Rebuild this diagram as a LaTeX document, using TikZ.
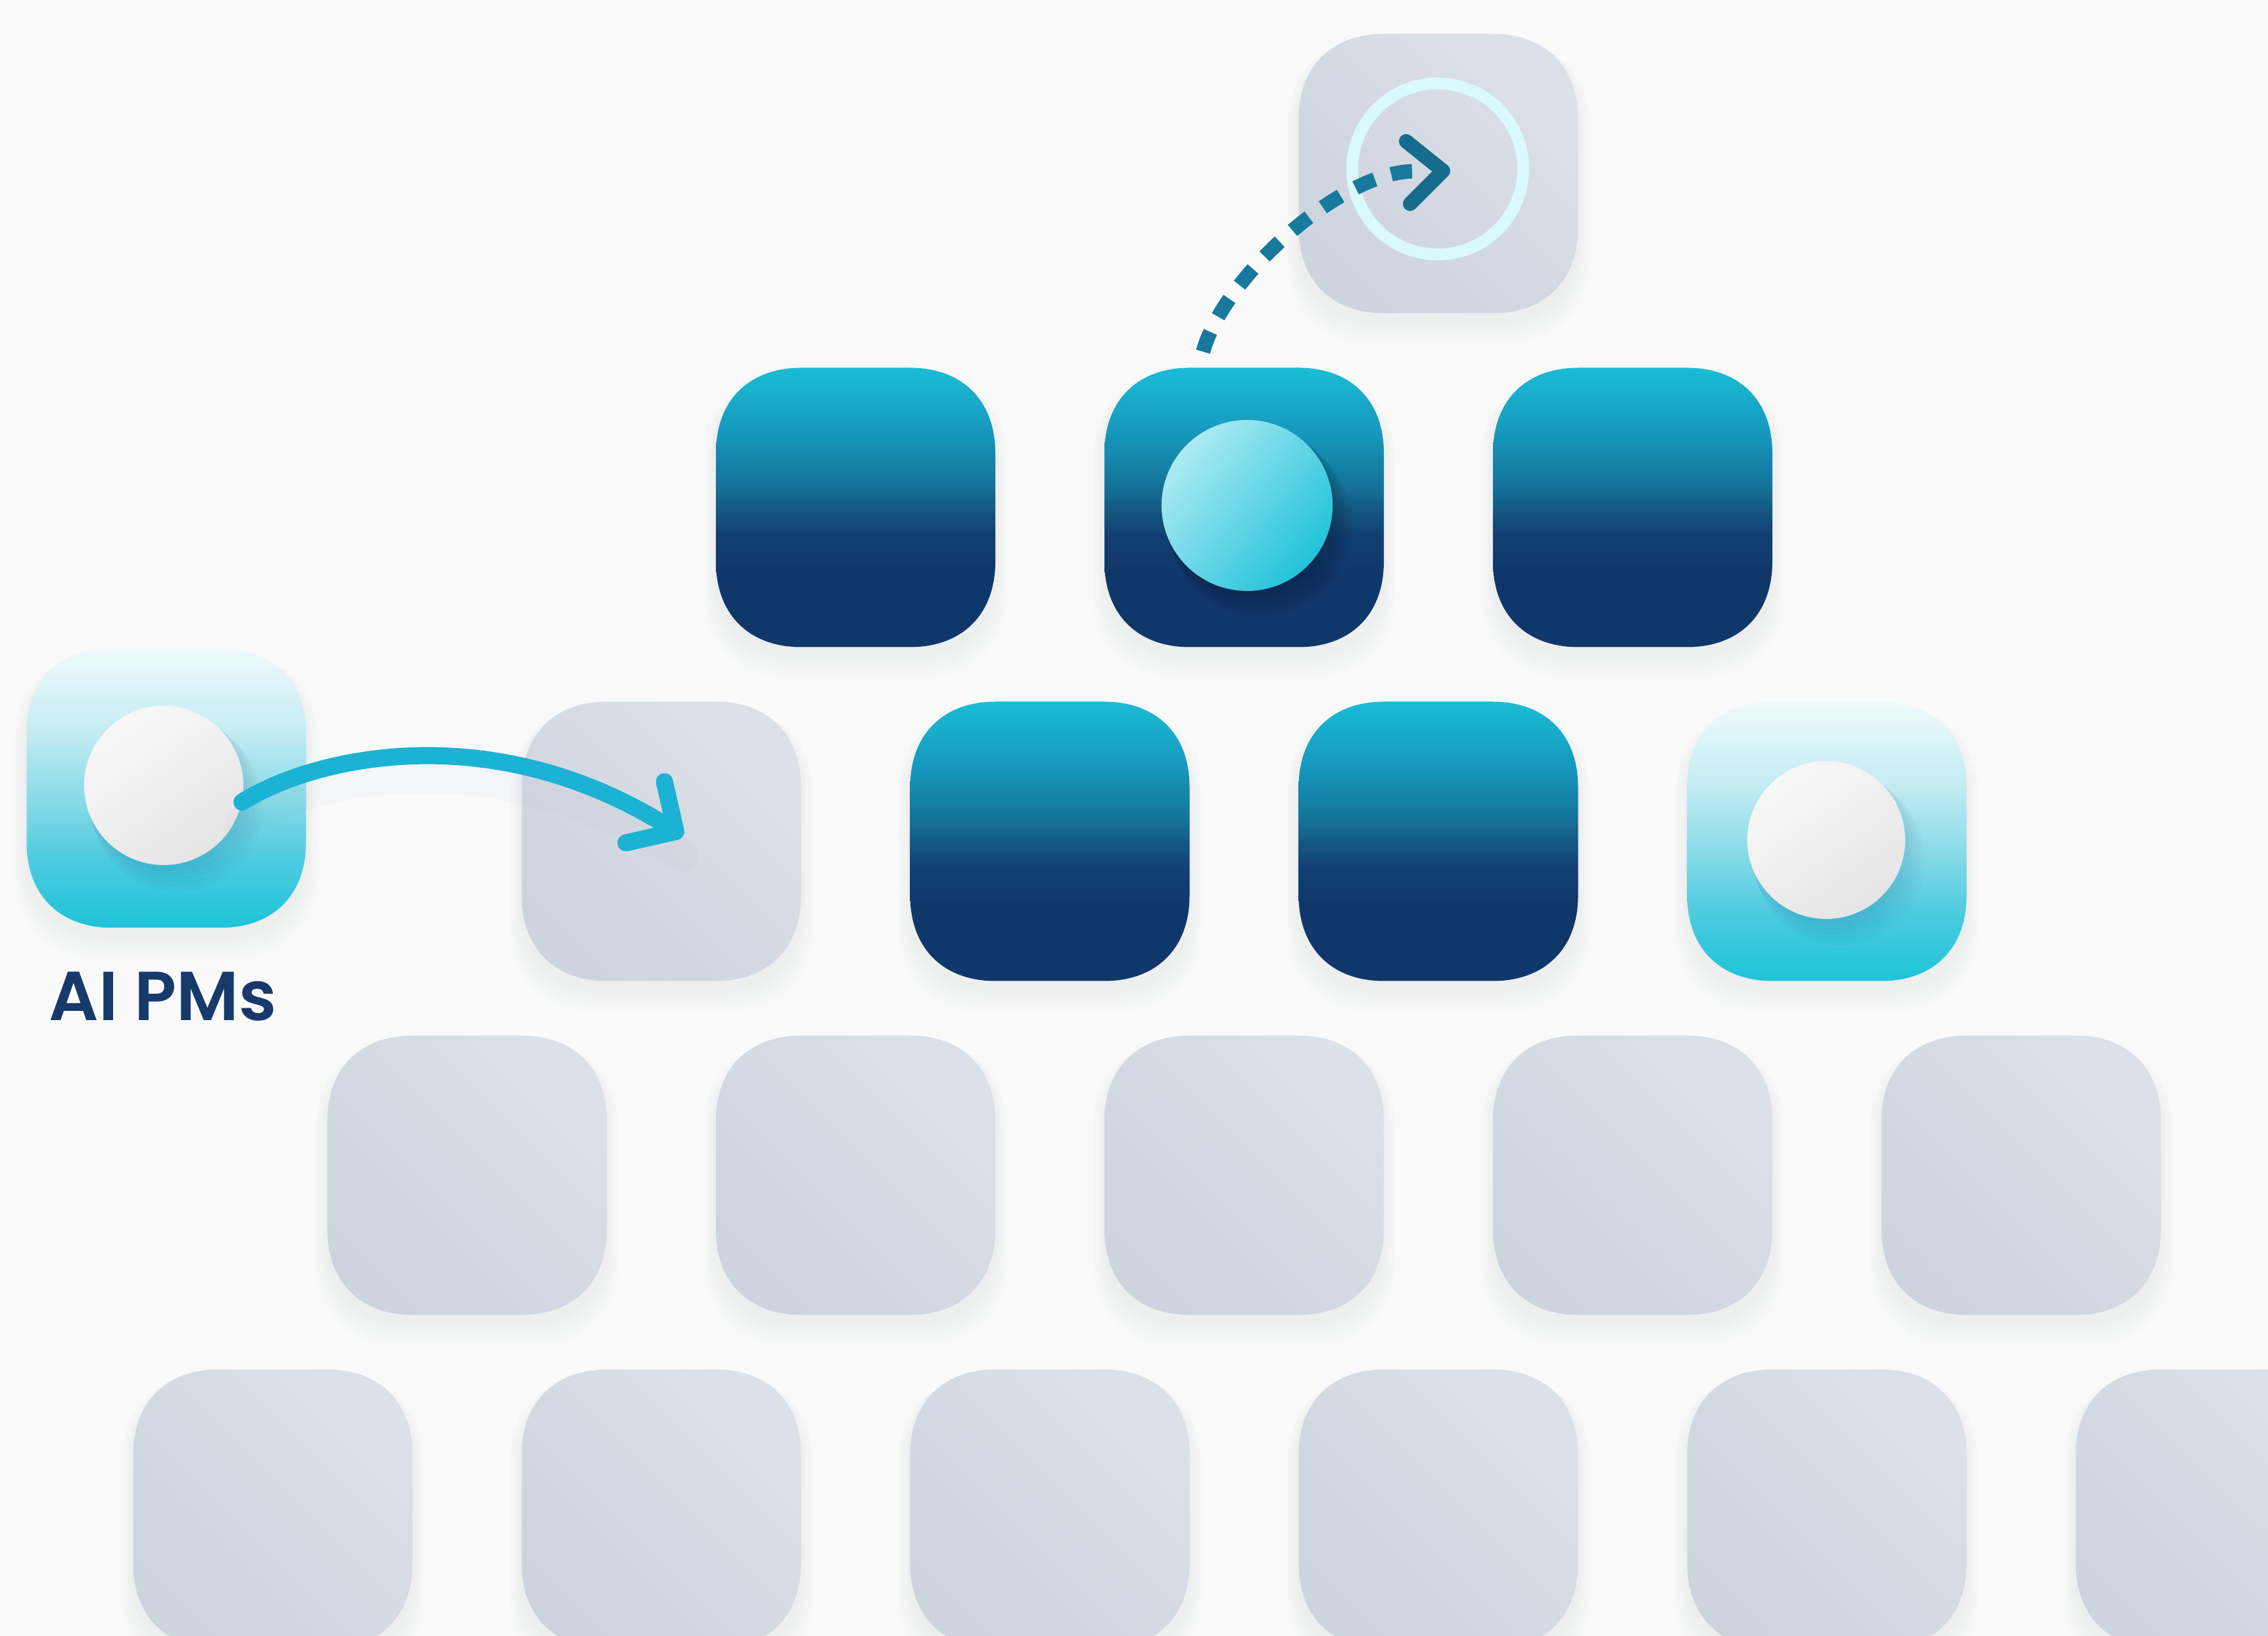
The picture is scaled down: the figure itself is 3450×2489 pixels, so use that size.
\documentclass[tikz,border=0pt]{standalone}
\usepackage{fontspec}
\IfFontExistsTF{Poppins SemiBold}{\newfontfamily\lblfont{Poppins SemiBold}}{\newfontfamily\lblfont{Poppins}}
\usetikzlibrary{arrows.meta}
\definecolor{bg}{HTML}{FAFAFA}
\definecolor{navy}{HTML}{10376A}
\definecolor{navyb}{HTML}{123F73}
\definecolor{navyc}{HTML}{14557F}
\definecolor{midb}{HTML}{157399}
\definecolor{midc}{HTML}{1697BC}
\definecolor{cyantop}{HTML}{1BBCD6}
\definecolor{lbA}{HTML}{1EC3DA}
\definecolor{lbB}{HTML}{4ECCDF}
\definecolor{lbC}{HTML}{86DAE7}
\definecolor{lbD}{HTML}{C3ECF2}
\definecolor{lbE}{HTML}{F0FAFC}
\definecolor{grayA}{HTML}{CDD4DE}
\definecolor{grayB}{HTML}{DCE0E8}
\definecolor{shadowc}{HTML}{7A869C}
\definecolor{arrowc}{HTML}{1CB2D3}
\definecolor{dashc}{HTML}{17799B}
\definecolor{chevc}{HTML}{156C8D}
\definecolor{ringc}{HTML}{D9F9FC}
\definecolor{textc}{HTML}{173A6B}
\definecolor{ballA}{HTML}{F8F8F8}
\definecolor{ballB}{HTML}{E5E5E6}
\definecolor{cballA}{HTML}{ADEBF3}
\definecolor{cballB}{HTML}{22C2DA}
\pgfdeclareverticalshading{darkbox}{100bp}{color(0bp)=(navy); color(25bp)=(navy); color(38bp)=(navy); color(45bp)=(navyb); color(49bp)=(navyc); color(54bp)=(midb); color(63bp)=(midc); color(75bp)=(cyantop); color(100bp)=(cyantop)}
\pgfdeclareverticalshading{lightbox}{100bp}{color(0bp)=(lbA); color(25bp)=(lbA); color(37.5bp)=(lbB); color(47.5bp)=(lbC); color(60bp)=(lbD); color(75bp)=(lbE); color(100bp)=(lbE)}
% squircle tile outline: centre x, centre y, half size, style
\newcommand\sqshape[4]{%
  \path[#4] ({#1-(#3)+130},{#2-(#3)}) -- ({#1+(#3)-130},{#2-(#3)})
    .. controls ({#1+(#3)-50},{#2-(#3)}) and ({#1+(#3)},{#2-(#3)+50}) .. ({#1+(#3)},{#2-(#3)+130})
    -- ({#1+(#3)},{#2+(#3)-130})
    .. controls ({#1+(#3)},{#2+(#3)-50}) and ({#1+(#3)-50},{#2+(#3)}) .. ({#1+(#3)-130},{#2+(#3)})
    -- ({#1-(#3)+130},{#2+(#3)})
    .. controls ({#1-(#3)+50},{#2+(#3)}) and ({#1-(#3)},{#2+(#3)-50}) .. ({#1-(#3)},{#2+(#3)-130})
    -- ({#1-(#3)},{#2-(#3)+130})
    .. controls ({#1-(#3)},{#2-(#3)+50}) and ({#1-(#3)+50},{#2-(#3)}) .. ({#1-(#3)+130},{#2-(#3)}) -- cycle;}
% a named tile: name, x, y, fill style
\newcommand\tile[4]{%
  \node[tilebase] (#1) at (#2,#3) {};
  \sqshape{#2}{#3}{212.5}{#4}}
\tikzset{
  tilebase/.style={rectangle, minimum width=4.25cm, minimum height=4.25cm, inner sep=0pt, outer sep=0pt},
  grayfill/.style={top color=grayB, bottom color=grayA, shading angle=-45},
  darkfill/.style={shade, shading=darkbox},
  lightfill/.style={shade, shading=lightbox},
  tileshadow/.style={fill=shadowc, opacity=0.016},
  whiteball/.style={circle, inner sep=0pt, minimum size=2.42cm, top color=ballA, bottom color=ballB, shading angle=35},
  cyanball/.style={circle, inner sep=0pt, minimum size=2.6cm, top color=cballA, bottom color=cballB, shading angle=50},
  ringstyle/.style={circle, inner sep=0pt, minimum size=2.6cm, draw=ringc, line width=0.18cm},
  solidarrow/.style={draw=arrowc, line width=0.26cm, line cap=round, -{Straight Barb[length=0.55cm, width=1.1cm, round]}},
  arrowshadow/.style={draw=shadowc, line width=0.5cm, opacity=0.03, line cap=round},
  dashline/.style={draw=dashc, line width=0.22cm, dash pattern=on 0.32cm off 0.26cm},
  chevron/.style={draw=chevc, line width=0.22cm, line cap=round, line join=round},
  lbl/.style={font=\lblfont\fontsize{30}{36}\selectfont, text=textc, inner sep=0pt, anchor=base}
}
\begin{document}
\begin{tikzpicture}[x=0.01cm, y=-0.01cm]
\useasboundingbox (0,0) rectangle (3450,2489);
\clip (0,0) rectangle (3450,2489);
\fill[bg] (0,0) rectangle (3450,2489);
% soft shadows under the tiles
\foreach \cx/\cy in {2188/264, 1301.5/772, 1892.5/772, 2483.5/772, 1006/1280, 1597/1280, 2188/1280, 2779/1280, 253/1199,
  710.5/1788, 1301.5/1788, 1892.5/1788, 2483.5/1788, 3074.5/1788, 415/2296, 1006/2296, 1597/2296, 2188/2296, 2779/2296, 3370/2296}{
  \foreach \i in {1,...,6}{
    \sqshape{\cx}{\cy+10+3*\i}{212.5+3*\i}{tileshadow}
  }
}
% top tile
\tile{t0}{2188}{264}{grayfill}
% row 1
\tile{r1a}{1301.5}{772}{darkfill}
\tile{r1b}{1892.5}{772}{darkfill}
\tile{r1c}{2483.5}{772}{darkfill}
% row 2
\tile{pm}{253}{1199}{lightfill}
\tile{r2a}{1006}{1280}{grayfill}
\tile{r2b}{1597}{1280}{darkfill}
\tile{r2c}{2188}{1280}{darkfill}
\tile{r2d}{2779}{1280}{lightfill}
% row 3
\tile{r3a}{710.5}{1788}{grayfill}
\tile{r3b}{1301.5}{1788}{grayfill}
\tile{r3c}{1892.5}{1788}{grayfill}
\tile{r3d}{2483.5}{1788}{grayfill}
\tile{r3e}{3074.5}{1788}{grayfill}
% row 4
\tile{r4a}{415}{2296}{grayfill}
\tile{r4b}{1006}{2296}{grayfill}
\tile{r4c}{1597}{2296}{grayfill}
\tile{r4d}{2188}{2296}{grayfill}
\tile{r4e}{2779}{2296}{grayfill}
\tile{r4f}{3370}{2296}{grayfill}
% ball shadows
\foreach \i in {1,...,5}{
  \fill[navy, opacity=0.025] (249+4*\i,1195+6*\i) circle[radius=1.21cm+0.02cm*\i];
  \fill[navy, opacity=0.025] (2778+4*\i,1278+6*\i) circle[radius=1.20cm+0.02cm*\i];
  \fill[black, opacity=0.04] (1897+4*\i,769+6*\i) circle[radius=1.30cm+0.02cm*\i];
}
% balls and ring
\node[whiteball] (ballpm) at (249,1195) {};
\node[whiteball, minimum size=2.40cm] (ballr) at (2778,1278) {};
\node[cyanball] (ballc) at (1897,769) {};
\node[ringstyle] (ring) at (2187,257) {};
% label
\node[lbl] (pmlabel) at (248,1553) {AI PMs};
% solid connector
\coordinate (aend) at (1039,1272);
\draw[arrowshadow, transform canvas={yshift=-0.3cm}] (ballpm.-12) .. controls (480,1150) and (750,1090) .. (aend);
\draw[solidarrow] (ballpm.-12) .. controls (480,1150) and (750,1090) .. (aend);
% dashed connector with open chevron head
\coordinate (dstart) at (1830,535);
\coordinate (dend) at (2195,260);
\draw[dashline, shorten >=0.45cm] (dstart) .. controls (1862,420) and (2040,262) .. (dend);
\draw[chevron] ([shift={(-56,-45)}]dend) -- (dend) -- ([shift={(-50,50)}]dend);
\end{tikzpicture}
\end{document}
